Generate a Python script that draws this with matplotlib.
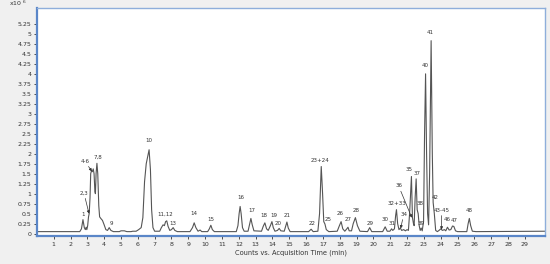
import matplotlib.pyplot as plt
import numpy as np

# chromatogram trace (time in min, counts x10^6)
tempo = [0.0, 2.55, 2.65, 2.74, 2.82, 2.88, 2.93, 2.97, 3.02, 3.07, 3.11, 3.16, 3.2, 3.25, 3.3,
         3.35, 3.4, 3.45, 3.48, 3.52, 3.57, 3.62, 3.68, 3.73, 3.8, 3.9, 4.0, 4.1, 4.2, 4.3,
         4.4, 4.55, 4.9, 5.0, 5.2, 5.35, 5.6, 5.7, 5.9, 6.05, 6.2, 6.3, 6.4, 6.5, 6.6,
         6.67, 6.75, 6.82, 6.9, 7.0, 7.3, 7.4, 7.5, 7.58, 7.65, 7.72, 7.8, 7.9, 8.0, 8.1,
         8.2, 8.35, 9.1, 9.25, 9.35, 9.45, 9.58, 9.7, 9.8, 10.15, 10.25, 10.34, 10.43, 10.55, 11.85,
         11.95, 12.02, 12.08, 12.14, 12.22, 12.32, 12.55, 12.65, 12.72, 12.8, 12.9, 13.35, 13.45, 13.55, 13.65,
         13.75, 13.88, 13.97, 14.05, 14.15, 14.3, 14.4, 14.5, 14.7, 14.78, 14.86, 14.94, 15.05, 16.15, 16.3,
         16.42, 16.7, 16.8, 16.9, 16.98, 17.05, 17.12, 17.2, 17.35, 17.85, 17.98, 18.08, 18.18, 18.3, 18.42,
         18.49, 18.56, 18.7, 18.8, 18.93, 19.05, 19.2, 19.65, 19.78, 19.9, 20.55, 20.7, 20.82, 20.98, 21.08,
         21.15, 21.25, 21.32, 21.37, 21.44, 21.52, 21.6, 21.68, 21.8, 21.9, 22.0, 22.08, 22.15, 22.26, 22.32,
         22.38, 22.42, 22.48, 22.54, 22.6, 22.66, 22.72, 22.78, 22.84, 22.9, 22.98, 23.04, 23.1, 23.16, 23.22,
         23.28, 23.34, 23.43, 23.5, 23.55, 23.62, 23.7, 23.8, 23.9, 24.0, 24.1, 24.22, 24.3, 24.4, 24.5,
         24.6, 24.7, 24.78, 24.88, 25.0, 25.55, 25.63, 25.7, 25.78, 25.88, 26.1, 30.2]
contagens = [0.05, 0.05, 0.12, 0.35, 0.15, 0.1, 0.16, 0.1, 0.2, 0.42, 0.5, 0.9, 1.5, 1.58, 1.55,
             1.62, 1.5, 1.05, 1.0, 1.5, 1.76, 1.5, 0.7, 0.42, 0.38, 0.33, 0.22, 0.1, 0.08, 0.15,
             0.08, 0.05, 0.05, 0.07, 0.07, 0.05, 0.05, 0.06, 0.06, 0.1, 0.15, 0.4, 1.3, 1.75, 1.95,
             2.1, 1.6, 0.6, 0.15, 0.06, 0.06, 0.15, 0.22, 0.2, 0.3, 0.32, 0.18, 0.08, 0.1, 0.15,
             0.08, 0.05, 0.05, 0.15, 0.27, 0.15, 0.06, 0.09, 0.05, 0.05, 0.12, 0.21, 0.1, 0.05, 0.05,
             0.2, 0.5, 0.68, 0.5, 0.15, 0.06, 0.06, 0.25, 0.38, 0.22, 0.07, 0.06, 0.18, 0.27, 0.12,
             0.08, 0.2, 0.3, 0.15, 0.06, 0.08, 0.13, 0.07, 0.06, 0.18, 0.29, 0.14, 0.05, 0.05, 0.11,
             0.05, 0.06, 0.5, 1.68, 1.0, 0.3, 0.24, 0.1, 0.05, 0.06, 0.2, 0.3, 0.12, 0.06, 0.12,
             0.16, 0.07, 0.07, 0.25, 0.4, 0.2, 0.06, 0.05, 0.15, 0.05, 0.05, 0.17, 0.06, 0.06, 0.12,
             0.08, 0.12, 0.45, 0.6, 0.25, 0.1, 0.14, 0.08, 0.1, 0.07, 0.1, 0.08, 0.5, 1.43, 0.4,
             0.25, 0.2, 0.9, 1.37, 0.6, 0.5, 0.2, 0.08, 0.14, 0.07, 0.3, 2.5, 4.0, 2.0, 0.5,
             0.22, 1.5, 4.83, 2.0, 0.78, 0.5, 0.08, 0.05, 0.08, 0.12, 0.08, 0.1, 0.07, 0.16, 0.09,
             0.1, 0.19, 0.18, 0.07, 0.05, 0.05, 0.25, 0.38, 0.2, 0.06, 0.05, 0.06]

# peak labels: text, text position (t, y)
rotulos = ['1', '7,8', '9', '10', '11,12', '13', '14', '15', '16', '17', '18', '19', '20', '21',
           '22', '23+24', '25', '26', '27', '28', '29', '30', '31', '32+33', '35', '37', '38', '39',
           '40', '41', '42', '46', '47', '48']
rotulos_t = [2.75, 3.65, 4.4, 6.67, 7.6, 8.1, 9.35, 10.35, 12.1, 12.75, 13.5, 14.1, 14.35, 14.9,
             16.35, 16.85, 17.3, 18.05, 18.5, 18.95, 19.8, 20.7, 21.1, 21.4, 22.15, 22.6, 22.8, 22.85,
             23.1, 23.4, 23.7, 24.4, 24.8, 25.7]
rotulos_y = [0.42, 1.85, 0.2, 2.28, 0.43, 0.2, 0.43, 0.3, 0.85, 0.52, 0.4, 0.4, 0.2, 0.4,
             0.2, 1.78, 0.3, 0.43, 0.3, 0.52, 0.2, 0.3, 0.2, 0.7, 1.55, 1.45, 0.7, 0.2,
             4.15, 4.98, 0.83, 0.3, 0.27, 0.52]

# labels with arrows: text, text position, arrow tip
setas = ['2,3', '4-6', '36', '34', '43-45']
setas_txt = [(2.8, 0.95), (2.85, 1.75), (21.5, 1.13), (21.8, 0.42), (24.05, 0.52)]
setas_ponta = [(3.1, 0.5), (3.27, 1.56), (22.28, 0.4), (21.62, 0.13), (24.05, 0.1)]

plt.rcParams['font.family'] = 'DejaVu Sans'

(fig, ax) = plt.subplots(1, 1, figsize=(5.5, 2.64), dpi=100)
fig.patch.set_facecolor('#f0f0f0')
fig.subplots_adjust(left=0.067, right=0.991, bottom=0.106, top=0.97)

ax.plot(tempo, contagens, color='#555555', linewidth=0.8)

for (r, t, y) in zip(rotulos, rotulos_t, rotulos_y):
    ax.text(t, y, r, fontsize=4, ha='center', va='bottom', color='#333333')

for (r, (tx, ty), (px, py)) in zip(setas, setas_txt, setas_ponta):
    ax.annotate(r, xy=(px, py), xytext=(tx, ty), fontsize=4, ha='center', va='bottom',
                color='#333333',
                arrowprops=dict(arrowstyle='-|>', color='#333333', lw=0.5,
                                mutation_scale=4, shrinkA=0, shrinkB=0))

ax.set_xlim(0, 30.2)
ax.set_ylim(-0.06, 5.65)
ax.set_xticks(np.arange(1, 30))
ax.set_yticks(np.arange(0, 5.5, 0.25))
ax.set_yticklabels(['%g' % v for v in np.arange(0, 5.5, 0.25)])
ax.tick_params(labelsize=4.5, length=2.5, width=0.6, colors='#333333', pad=1.5)

for s in ['left', 'bottom']:
    ax.spines[s].set_color('#5a86c8')
    ax.spines[s].set_linewidth(1.6)
for s in ['top', 'right']:
    ax.spines[s].set_color('#8eaedb')
    ax.spines[s].set_linewidth(1.0)

ax.text(-0.02, 1.0, 'x10 $^6$', transform=ax.transAxes, fontsize=4.5, ha='right',
        va='bottom', color='#333333')
ax.set_xlabel('Counts vs. Acquisition Time (min)', fontsize=4.8, labelpad=2, color='#333333')

plt.savefig('out.png', dpi=100, facecolor=fig.get_facecolor())
